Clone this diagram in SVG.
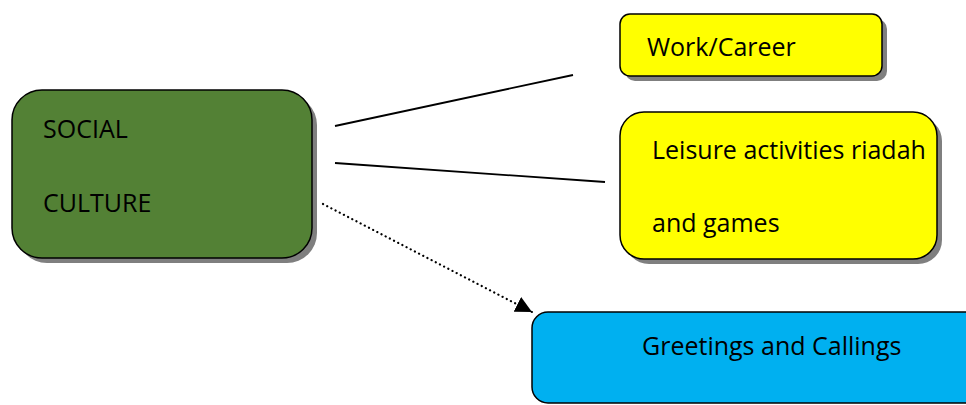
<svg xmlns="http://www.w3.org/2000/svg" width="966" height="405" viewBox="0 0 966 405">
  <style>
    .shadow { fill: #7f7f7f; }
    .box { stroke: #000; stroke-width: 1.5; }
    .label { font-family: "Open Sans", "Liberation Sans", sans-serif; font-size: 25px; fill: #000; }
    .link { stroke: #000; stroke-width: 1.8; fill: none; }
    .dotted { stroke: #000; stroke-width: 2.2; fill: none; stroke-dasharray: 0.1 4.6; stroke-linecap: round; }
  </style>
  <defs>
    <marker id="arrow" viewBox="0 0 10 10" refX="10" refY="5" markerWidth="7.5" markerHeight="7.5" markerUnits="strokeWidth" orient="auto">
      <path d="M0,0 L10,5 L0,10 Z" fill="#000"/>
    </marker>
  </defs>
  <rect width="966" height="405" fill="#fff"/>

  <g id="connectors">
    <line class="link" x1="335" y1="126" x2="573" y2="75"/>
    <line class="link" x1="335" y1="163" x2="605" y2="182"/>
    <line class="dotted" x1="323" y1="204" x2="532" y2="312" marker-end="url(#arrow)"/>
  </g>

  <g id="social-culture">
    <rect class="shadow" x="17" y="95" width="300" height="168" rx="30"/>
    <rect class="box" x="12" y="90" width="300" height="168" rx="30" fill="#538135"/>
    <text class="label" x="43" y="138">SOCIAL</text>
    <text class="label" x="43" y="212">CULTURE</text>
  </g>

  <g id="work-career">
    <rect class="shadow" x="625" y="19" width="262" height="62" rx="10"/>
    <rect class="box" x="620" y="14" width="262" height="62" rx="10" fill="#ffff00"/>
    <text class="label" x="647" y="56">Work/Career</text>
  </g>

  <g id="leisure">
    <rect class="shadow" x="625" y="117" width="317" height="147" rx="24"/>
    <rect class="box" x="620" y="112" width="317" height="147" rx="24" fill="#ffff00"/>
    <text class="label" x="652" y="159">Leisure activities riadah</text>
    <text class="label" x="652" y="232">and games</text>
  </g>

  <g id="greetings">
    <rect class="box" x="532" y="312" width="450" height="91" rx="16" fill="#00b0f0"/>
    <text class="label" x="642" y="355">Greetings and Callings</text>
  </g>
</svg>
